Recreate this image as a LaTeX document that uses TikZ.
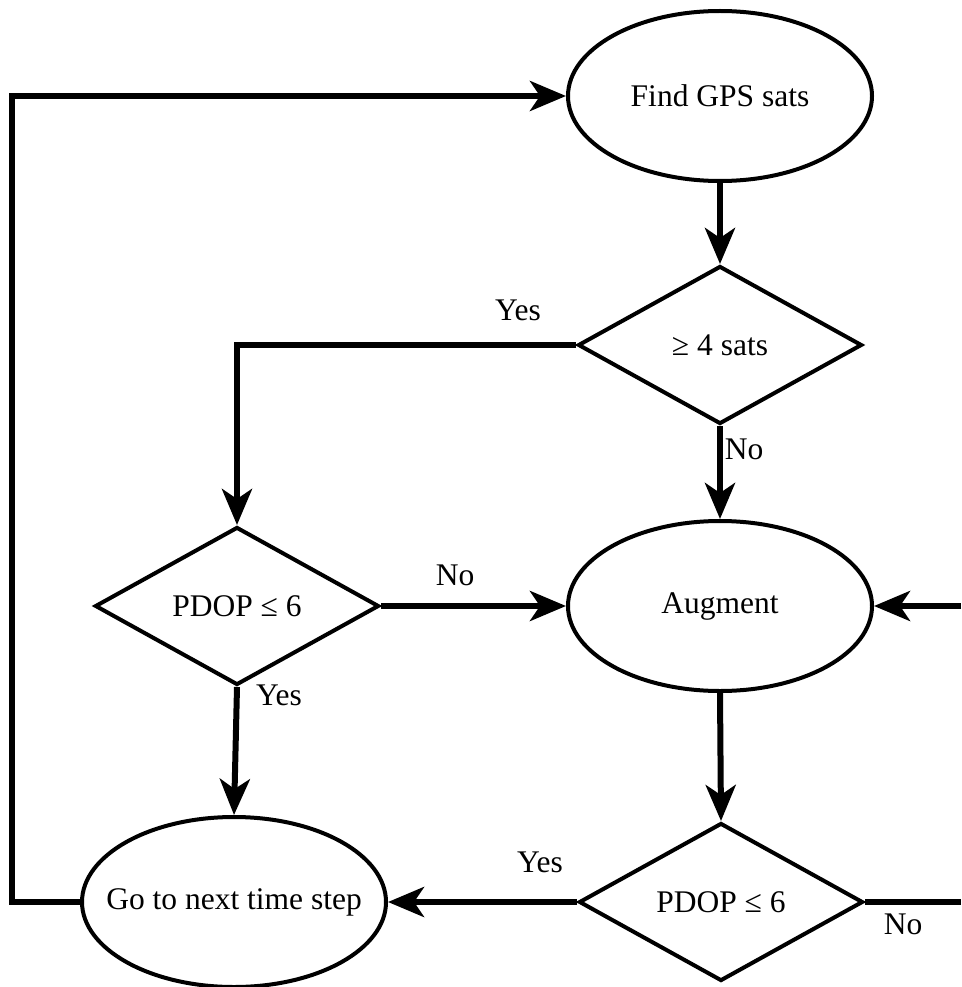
\documentclass[tikz,border=0pt]{standalone}
\usepackage{fontspec}
\setmainfont{Liberation Serif}
\newfontfamily\reffont{Liberation Serif}
\usetikzlibrary{shapes.geometric,arrows.meta}
\begin{document}
\begin{tikzpicture}[x=1pt,y=-1pt,
 every node/.style={font=\reffont\fontsize{31.5}{36}\selectfont},
 oval/.style={ellipse,draw,line width=4pt,minimum width=304pt,minimum height=170pt,inner sep=0pt},
 decision/.style={diamond,draw,line width=4pt,minimum width=284pt,minimum height=158pt,inner sep=0pt,aspect=1.8},
 conn/.style={line width=6pt,line join=miter},
 arr/.style={conn,-{Stealth[length=36pt,width=30pt,inset=10pt]}},
 lbl/.style={inner sep=0pt}]
\useasboundingbox (0,0) rectangle (961,987);
\node[oval] (find) at (720,96) {Find GPS sats};
\node[decision] (d1) at (720,345) {≥ 4 sats};
\node[oval] (aug) at (720,606) {Augment};
\node[decision] (d2) at (237,606) {PDOP ≤ 6};
\node[oval,inner xsep=-30pt] (next) at (234,902) {Go to next time step};
\node[decision] (d3) at (721,902) {PDOP ≤ 6};
\coordinate (rin) at (961,606);
\coordinate (rout) at (961,902);
\coordinate (lc) at (12,96);
\draw[arr] (find) -- (d1);
\draw[arr] (d1.west) -| (d2.north);
\draw[arr] (d1.south) -- (aug.north);
\draw[arr] (d2.east) -- (aug.west);
\draw[arr] (d2.south) -- (next.north);
\draw[arr] (aug.south) -- (d3.north);
\draw[arr] (d3.west) -- (next.east);
\draw[conn] (d3.east) -- (rout);
\draw[arr] (rin) -- (aug.east);
\draw[arr] (next.west) -| (lc) -- (find.west);
\node[lbl] (yes1) at (518,310) {Yes};
\node[lbl] (no1) at (744,449) {No};
\node[lbl] (no2) at (455,575) {No};
\node[lbl] (yes2) at (279,695) {Yes};
\node[lbl] (yes3) at (540,862) {Yes};
\node[lbl] (no3) at (903,924) {No};
\end{tikzpicture}
\end{document}
